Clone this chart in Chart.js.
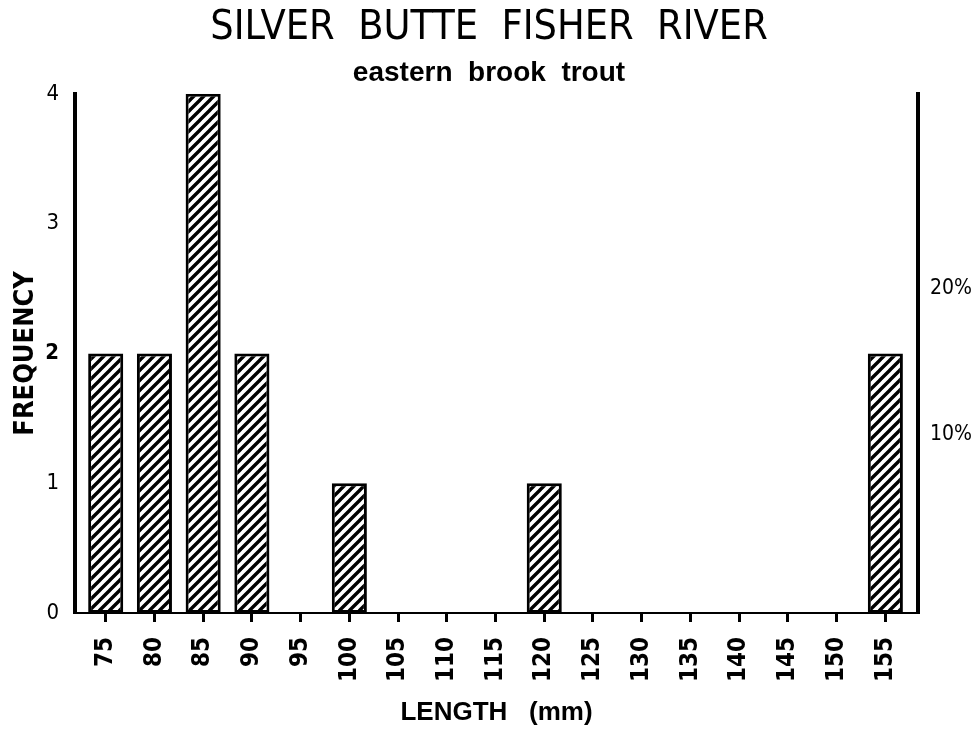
<!DOCTYPE html>
<html>
<head>
<meta charset="utf-8">
<title>Silver Butte Fisher River</title>
<script src="https://cdn.jsdelivr.net/npm/chart.js@4/dist/chart.umd.min.js"></script>
<style>
  html, body { margin: 0; padding: 0; background: #fff; }
  #wrap { width: 978px; height: 732px; }
</style>
</head>
<body>
<div id="wrap"><canvas id="c" width="978" height="732"></canvas></div>
<script>
// Length classes (mm) and number of fish in each class
const lengths = [75, 80, 85, 90, 95, 100, 105, 110, 115, 120, 125, 130, 135, 140, 145, 150, 155];
const counts  = [2, 2, 4, 2, 0, 1, 0, 0, 0, 1, 0, 0, 0, 0, 0, 0, 2];
// Left axis ticks (frequency) and right axis ticks (percent)
const freqTicks = [0, 1, 2, 3, 4];
const pctTicks = [10, 20];

const NARROW = '"Liberation Sans Narrow", "DejaVu Sans Condensed", "Liberation Sans", sans-serif';
const SANS = '"Liberation Sans", Arial, sans-serif';

// Diagonal hatch fill for the bars
function hatchPattern(ctx) {
  const s = 10;
  const c = document.createElement('canvas');
  c.width = s; c.height = s;
  const g = c.getContext('2d');
  g.fillStyle = '#fff';
  g.fillRect(0, 0, s, s);
  g.strokeStyle = '#000';
  g.lineWidth = 3.4;
  g.beginPath();
  for (const k of [-s, 0, s]) {
    g.moveTo(k - 1, s + 1);
    g.lineTo(k + s + 1, -1);
  }
  g.stroke();
  return ctx.createPattern(c, 'repeat');
}

const canvas = document.getElementById('c');
const ctx = canvas.getContext('2d');

new Chart(ctx, {
  type: 'bar',
  data: {
    datasets: [{
      data: lengths.map((x, i) => ({ x: x, y: counts[i] })),
      backgroundColor: hatchPattern(ctx),
      borderColor: '#000',
      borderWidth: 3,
      borderSkipped: false,
      categoryPercentage: 1,
      barPercentage: 0.72,
      yAxisID: 'y'
    }]
  },
  options: {
    responsive: false,
    animation: false,
    layout: { padding: 0 },
    plugins: {
      legend: { display: false },
      tooltip: { enabled: false },
      title: {
        display: true,
        text: 'SILVER  BUTTE  FISHER  RIVER',
        color: '#000',
        font: { family: NARROW, size: 41, weight: 'normal' },
        padding: { top: 4, bottom: 0 }
      },
      subtitle: {
        display: true,
        text: 'eastern  brook  trout',
        color: '#000',
        font: { family: SANS, size: 28, weight: 'bold' },
        padding: { top: 3, bottom: 4 }
      }
    },
    scales: {
      x: {
        type: 'linear',
        position: 'bottom',
        offset: false,
        min: 71.85,
        max: 158.35,
        afterBuildTicks: (scale) => { scale.ticks = lengths.map(v => ({ value: v })); },
        afterFit: (scale) => { scale.height = 119; },
        grid: {
          display: true,
          offset: false,
          drawOnChartArea: false,
          drawTicks: true,
          tickLength: 9,
          tickWidth: 3,
          tickColor: '#000',
          color: '#000'
        },
        border: { display: true, color: '#000', width: 2 },
        ticks: {
          autoSkip: false,
          minRotation: 90,
          maxRotation: 90,
          padding: 15,
          color: '#000',
          font: { family: NARROW, size: 24, weight: 'bold' },
          callback: (v) => String(v)
        },
        title: {
          display: true,
          text: 'LENGTH   (mm)',
          color: '#000',
          font: { family: SANS, size: 26, weight: 'bold' },
          padding: { top: 0, bottom: 4 }
        }
      },
      y: {
        position: 'left',
        min: 0,
        max: 4,
        afterBuildTicks: (scale) => { scale.ticks = freqTicks.map(v => ({ value: v })); },
        afterFit: (scale) => { scale.width = 75; },
        grid: { display: false, drawTicks: false },
        border: { display: true, color: '#000', width: 4 },
        ticks: {
          padding: 16,
          color: '#000',
          font: (c) => ({
            family: NARROW,
            size: 22,
            weight: c.tick && c.tick.value === 2 ? 'bold' : 'normal'
          })
        },
        title: {
          display: true,
          text: 'FREQUENCY',
          color: '#000',
          font: { family: NARROW, size: 27, weight: 'bold' },
          padding: { top: 10, bottom: 0 }
        }
      },
      y2: {
        position: 'right',
        min: -2.2,
        max: 33.3,
        afterBuildTicks: (scale) => { scale.ticks = pctTicks.map(v => ({ value: v })); },
        afterFit: (scale) => { scale.width = 60; },
        grid: { display: false, drawTicks: false },
        border: { display: true, color: '#000', width: 4 },
        ticks: {
          padding: 12,
          color: '#000',
          font: { family: NARROW, size: 21, weight: 'normal' },
          callback: (v) => v + '%'
        }
      }
    }
  }
});
</script>
</body>
</html>
